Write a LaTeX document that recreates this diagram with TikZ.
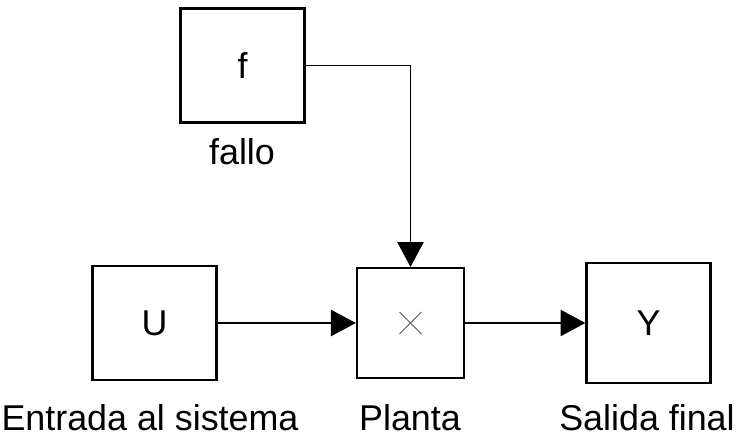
\documentclass[tikz,border=0pt]{standalone}
\usepackage{fontspec}
\setmainfont{Liberation Sans}
\usetikzlibrary{arrows.meta,shadows}

\tikzset{
  blk/.style={draw, line width=1.6pt, fill=white, inner sep=0pt,
    minimum width=3.1cm, minimum height=2.85cm,
    drop shadow={shadow xshift=0.7pt, shadow yshift=-0.7pt, opacity=0.3}},
  lbl/.style={anchor=base, text depth=0pt},
  sig/.style={line width=0.8pt, -{Triangle[length=0.62cm,width=0.66cm]}}
}

\begin{document}
\begin{tikzpicture}[x=0.025cm, y=-0.025cm, font=\fontsize{25.5}{30}\selectfont]
  \useasboundingbox (0,0) rectangle (736,438);
  \def\row{323}   % y of the lower row
  \def\base{430}  % baseline of the lower names
  % blocks
  \node[blk] (fallo) at (242.5,65.5) {f};
  \node[blk] (entrada) at (154.5,\row) {U};
  \node[blk, minimum width=2.68cm, minimum height=2.75cm] (planta) at (410.5,\row) {};
  \node[blk, minimum height=3cm] (salida) at (648.5,\row) {Y};
  % product sign
  \draw[black!65, line width=0.65pt] ([shift={(-11,-11)}]planta.center) -- ([shift={(11,11)}]planta.center);
  \draw[black!65, line width=0.65pt] ([shift={(-11,11)}]planta.center) -- ([shift={(11,-11)}]planta.center);
  % names under the blocks
  \node[lbl] (fallotxt) at (242,165) {fallo};
  \node[lbl] (entradatxt) at (150,\base) {Entrada al sistema};
  \node[lbl] (plantatxt) at (410,\base) {Planta};
  \node[lbl] (salidatxt) at (647,\base) {Salida final};
  % signals
  \draw[sig] (fallo.east) -| (planta.north);
  \draw[sig] (entrada) -- (planta);
  \draw[sig] (planta) -- (salida);
\end{tikzpicture}
\end{document}
